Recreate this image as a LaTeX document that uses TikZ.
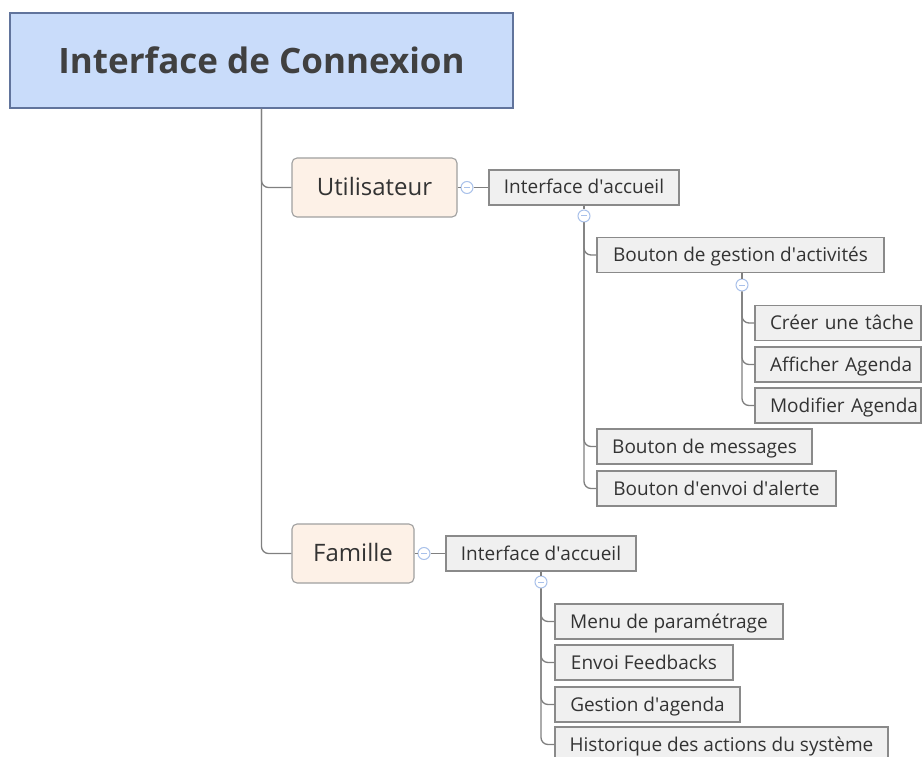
\documentclass[tikz,border=0pt]{standalone}
\usepackage{fontspec}
\setmainfont{Open Sans}
\definecolor{rootfill}{HTML}{C9DCFA}
\definecolor{rootdraw}{HTML}{61749C}
\definecolor{topfill}{HTML}{FDF1E7}
\definecolor{topdraw}{HTML}{A0A0A0}
\definecolor{leaffill}{HTML}{F0F0F0}
\definecolor{leafdraw}{HTML}{8A8A8A}
\definecolor{conncol}{HTML}{808080}
\definecolor{txt}{HTML}{333333}
\definecolor{circcol}{HTML}{A9C1EA}
\newcommand{\apo}{\textquotesingle}
\begin{document}
\begin{tikzpicture}[x=1pt,y=-1pt,
  rootbox/.style={draw=rootdraw, fill=rootfill, line width=1.2pt, inner sep=0,
    minimum width=503, minimum height=95, text=black!75, font=\fontsize{35}{40}\selectfont\bfseries},
  topbox/.style={draw=topdraw, fill=topfill, line width=1.1pt, rounded corners=5pt, inner sep=0,
    minimum height=59, text=txt, text height=19, text depth=3, font=\fontsize{24}{28}\selectfont},
  leaf/.style={draw=leafdraw, fill=leaffill, line width=1.1pt, inner sep=0,
    minimum height=35, text=txt, text height=15, text depth=2, font=\fontsize{19}{22}\selectfont},
  leafl/.style={leaf, inner xsep=0, text width=166, align=left},
  circ/.style={circle, draw=circcol, fill=white, line width=1pt, minimum size=12, inner sep=0,
    path picture={\draw[circcol, line width=1pt] ([xshift=3pt]path picture bounding box.west) -- ([xshift=-3pt]path picture bounding box.east);}},
  conn/.style={draw=conncol, line width=1.3pt, rounded corners=7pt}
]
\useasboundingbox (0,0) rectangle (922,757);
\fill[white] (0,0) rectangle (922,757);

% nodes
\node[rootbox] (root) at (261.5,60.5) {Interface de Connexion};
\node[topbox, minimum width=165] (util) at (374.5,187.5) {Utilisateur};
\node[topbox, minimum width=122] (fam) at (353,553.5) {Famille};

\node[leaf, minimum width=190] (ia1) at (584,187.5) {Interface d\apo accueil};
\node[leaf, minimum width=287] (bga) at (740.5,255) {Bouton de gestion d\apo activités};
\node[leafl] (cre) at (838,323) {\hspace*{15pt}Créer une tâche};
\node[leafl] (aff) at (838,364.5) {\hspace*{15pt}Afficher Agenda};
\node[leafl] (mod) at (838,405.5) {\hspace*{15pt}Modifier Agenda};
\node[leaf, minimum width=215] (bm) at (704.5,446.5) {Bouton de messages};
\node[leaf, minimum width=239] (bea) at (716.5,488.5) {Bouton d\apo envoi d\apo alerte};

\node[leaf, minimum width=190] (ia2) at (541,553.5) {Interface d\apo accueil};
\node[leaf, minimum width=228] (men) at (669,621.5) {Menu de paramétrage};
\node[leaf, minimum width=178] (env) at (644,662.5) {Envoi Feedbacks};
\node[leaf, minimum width=185] (ges) at (647.5,704.5) {Gestion d\apo agenda};
\node[leaf, minimum width=333] (his) at (721.5,744.5) {Historique des actions du système};

% collapse markers
\node[circ] (k1) at (467,187.5) {};
\node[circ] (k2) at (584,216) {};
\node[circ] (k3) at (742,285) {};
\node[circ] (k4) at (424,553.5) {};
\node[circ] (k5) at (541,582) {};

% connectors
\draw[conn] (root.south) |- (util.west);
\draw[conn] (root.south) |- (fam.west);
\draw[conn] (util.east) -- (k1.west);
\draw[conn] (k1.east) -- (ia1.west);
\draw[conn] (ia1.south) -- (k2.north);
\draw[conn] (k2.south) |- (bga.west);
\draw[conn] (k2.south) |- (bm.west);
\draw[conn] (k2.south) |- (bea.west);
\draw[conn] (bga.south -| k3) -- (k3.north);
\draw[conn] (k3.south) |- (cre.west);
\draw[conn] (k3.south) |- (aff.west);
\draw[conn] (k3.south) |- (mod.west);
\draw[conn] (fam.east) -- (k4.west);
\draw[conn] (k4.east) -- (ia2.west);
\draw[conn] (ia2.south) -- (k5.north);
\draw[conn] (k5.south) |- (men.west);
\draw[conn] (k5.south) |- (env.west);
\draw[conn] (k5.south) |- (ges.west);
\draw[conn] (k5.south) |- (his.west);
\end{tikzpicture}
\end{document}
